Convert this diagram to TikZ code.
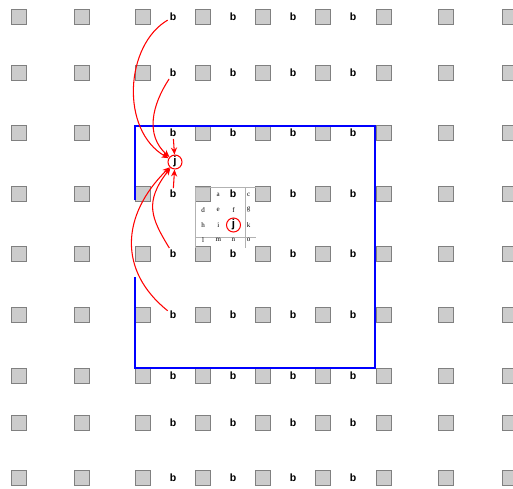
\documentclass[tikz,border=0pt]{standalone}
\usepackage{fontspec}
\setmainfont{Liberation Serif}
\setsansfont{Liberation Sans}
\usetikzlibrary{arrows.meta}

\begin{document}
\begin{tikzpicture}[
    x=0.02cm, y=-0.02cm,
    site/.style={rectangle, draw=gray, fill=gray!40, line width=0.6pt, minimum size=0.3cm, inner sep=0pt},
    lab/.style={font=\sffamily\bfseries\fontsize{6}{6}\selectfont, inner sep=1pt},
    cell/.style={font=\fontsize{4}{4}\selectfont, inner sep=0pt},
    ring/.style={circle, draw=red, line width=0.6pt, minimum size=0.28cm, inner sep=0pt, font=\sffamily\bfseries\fontsize{6.5}{6.5}\selectfont},
    hop/.style={-{Stealth[length=4pt,width=3.5pt]}, red, line width=0.6pt},
    fence/.style={blue, line width=1.1pt},
    gridline/.style={gray!60, line width=0.4pt}
  ]
    \useasboundingbox (0,0) rectangle (513,488);

    % lattice of sites and b labels
    \foreach \y [count=\r] in {17,73,133,194,254,315,376,423,478}{
      \foreach \x [count=\c] in {19,82,143,203,263,323,384,446,510}{
        \ifnum\numexpr\r*10+\c\relax=33 \else
          \node[site] (s-\r-\c) at (\x,\y) {};
        \fi
      }
      \foreach \x [count=\c] in {173,233,293,353}
        \node[lab] (b-\r-\c) at (\x,\y) {b};
    }

    % block window
    \draw[fence] (135,200) -- (135,126) -- (375,126) -- (375,368) -- (135,368) -- (135,277);

    % small neighbourhood grid
    \begin{scope}[shift={(195.5,187)}, x=0.304cm, y=-0.304cm]
      \draw[gridline] (0,0) grid (4,4);
      \foreach \cc/\rr/\t in {1/0/a,3/0/c,0/1/d,1/1/e,2/1/f,3/1/g,0/2/h,1/2/i,3/2/k,0/3/l,1/3/m,2/3/n,3/3/o}
        \node[cell] (c-\t) at (\cc+0.5,\rr+0.5) {\t};
      \node[ring] (jin) at (2.5,2.5) {j};
    \end{scope}

    % target and its neighbours
    \node[ring] (jout) at (175,162) {j};
    \draw[hop] (b-3-1) -- (jout);
    \draw[hop] (b-4-1) -- (jout);
    \draw[hop] (b-1-1) .. controls (125,45) and (120,130) .. (jout);
    \draw[hop] (b-2-1) .. controls (152,105) and (145,135) .. (jout);
    \draw[hop] (b-5-1) .. controls (151,218) and (144,202) .. (jout);
    \draw[hop] (b-6-1) .. controls (118,271) and (121,215) .. (jout);
\end{tikzpicture}
\end{document}
